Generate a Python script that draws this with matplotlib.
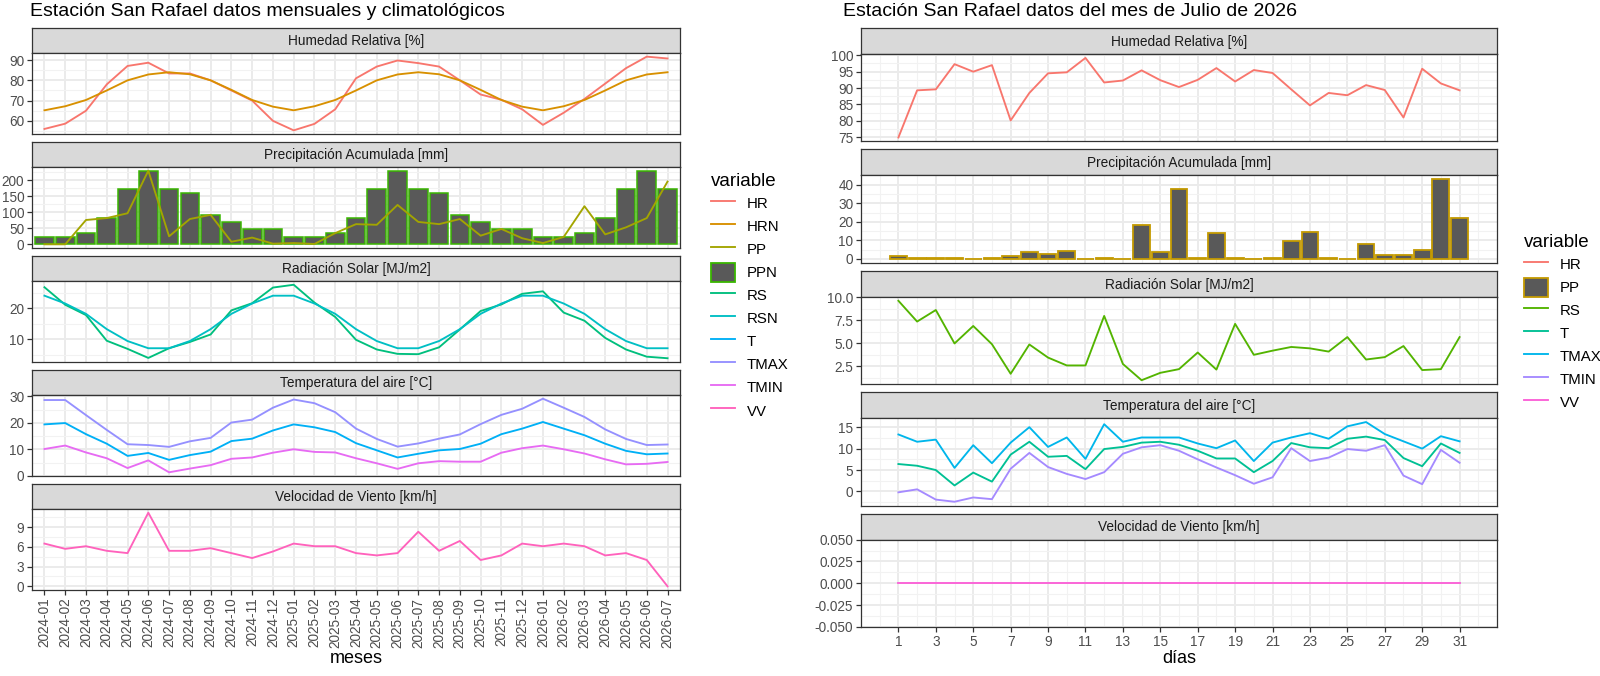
import numpy as np
import matplotlib.pyplot as plt
from matplotlib.lines import Line2D
from matplotlib.patches import Patch

plt.rcParams['font.family'] = ['Liberation Sans', 'DejaVu Sans']

# ---- datos mensuales (2024-01 .. 2026-07)
meses = ['2024-01', '2024-02', '2024-03', '2024-04', '2024-05', '2024-06', '2024-07',
         '2024-08', '2024-09', '2024-10', '2024-11', '2024-12', '2025-01', '2025-02',
         '2025-03', '2025-04', '2025-05', '2025-06', '2025-07', '2025-08', '2025-09',
         '2025-10', '2025-11', '2025-12', '2026-01', '2026-02', '2026-03', '2026-04',
         '2026-05', '2026-06', '2026-07']
hr = [56, 58.6, 65, 78, 87.1, 88.7, 83.4, 83.4, 80, 75, 70, 60, 55.3, 58.5, 65.7, 81,
      86.8, 89.8, 88.5, 86.8, 80, 73, 70.4, 65.7, 58, 64, 70.8, 78.4, 86, 91.7, 90.8]
hrn = [65.2, 67.2, 70.3, 75, 80, 82.9, 84, 83, 80, 75.3, 70.3, 67, 65.2, 67.2, 70.3, 75,
       80, 82.9, 84, 83, 80, 75.3, 70.3, 67, 65.2, 67.2, 70.3, 75, 80, 82.9, 84]
pp = [0, 0, 76, 82, 97, 230, 25, 79, 92, 8, 21, 2, 4, 1, 35, 63, 61, 123, 70, 63, 79,
      27, 48, 19, 4, 23, 119, 31, 53, 82, 196]
ppn = [24, 24, 36, 81, 172, 230, 172, 161, 93, 69, 48, 48, 24, 24, 36, 81, 172, 230, 172,
       161, 93, 69, 48, 48, 24, 24, 36, 81, 172, 230, 172]
rs = [26.7, 21.1, 17.8, 9.6, 7.0, 4.1, 7.2, 9.2, 11.6, 19.3, 21.6, 26.6, 27.5, 21.8, 17.2,
      9.9, 6.8, 5.4, 5.3, 7.5, 13.2, 19.1, 21.2, 24.6, 25.4, 18.6, 16.0, 10.5, 6.8, 4.5, 4.0]
rsn = [24, 21.5, 18.2, 13.3, 9.5, 7.2, 7.2, 9.5, 13.3, 18.2, 21.5, 24, 24, 21.5, 18.2, 13.3,
       9.5, 7.2, 7.2, 9.5, 13.3, 18.2, 21.5, 24, 24, 21.5, 18.2, 13.3, 9.5, 7.2, 7.2]
t = [19.4, 19.9, 15.7, 12.1, 7.5, 8.6, 6.0, 7.8, 9.1, 13.1, 14.0, 17.1, 19.4, 18.3, 16.5,
     12.3, 9.6, 6.9, 8.3, 9.6, 10.1, 12.1, 15.7, 17.8, 20.3, 17.8, 15.3, 12.1, 9.4, 8.1, 8.4]
tmax = [28.6, 28.6, 22.9, 17.3, 11.9, 11.6, 10.9, 13.0, 14.3, 20.1, 21.2, 25.7, 28.8, 27.4,
        24.0, 17.8, 13.9, 11.0, 12.2, 14.0, 15.6, 19.5, 23.0, 25.3, 29.1, 25.7, 22.2, 17.5,
        13.9, 11.6, 11.8]
tmin = [10.1, 11.4, 8.8, 6.6, 2.9, 5.8, 1.3, 2.7, 4.0, 6.4, 6.9, 8.7, 10.0, 9.0, 8.8, 6.6,
        4.7, 2.6, 4.7, 5.5, 5.3, 5.3, 8.7, 10.4, 11.4, 10.0, 8.4, 6.2, 4.3, 4.5, 5.2]
vv = [6.5, 5.7, 6.1, 5.4, 5.05, 11.2, 5.4, 5.4, 5.8, 5.05, 4.3, 5.3, 6.5, 6.1, 6.1, 5.05,
      4.7, 5.05, 8.3, 5.4, 6.9, 4.0, 4.7, 6.5, 6.1, 6.5, 6.1, 4.7, 5.05, 4.0, 0]

# ---- datos diarios julio 2026
dias = list(range(1, 32))
hr_d = [74.9, 89.3, 89.6, 97.3, 95.0, 97.0, 80.1, 88.5, 94.5, 94.8, 99.2, 91.7, 92.3, 95.4,
        92.4, 90.3, 92.5, 96.1, 92.0, 95.5, 94.6, 89.6, 84.7, 88.5, 87.8, 90.9, 89.4, 81.0,
        95.9, 91.4, 89.3]
pp_d = [1.3, 0.2, 0.2, 0.3, 0.1, 0.2, 1.5, 3.8, 2.7, 4.0, 0.1, 0.2, 0.1, 18.5, 3.5, 37.8,
        0.5, 14.2, 0.2, 0.1, 0.7, 9.6, 14.7, 0.2, 0.1, 8.2, 2.0, 1.8, 4.9, 42.9, 21.8]
rs_d = [9.6, 7.35, 8.6, 4.98, 6.87, 4.9, 1.7, 4.87, 3.45, 2.6, 2.6, 7.96, 2.76, 1.0, 1.8,
        2.2, 4.0, 2.15, 7.1, 3.75, 4.2, 4.6, 4.45, 4.1, 5.67, 3.24, 3.5, 4.7, 2.1, 2.2, 5.67]
t_d = [6.4, 6.0, 5.0, 1.4, 4.4, 2.3, 8.6, 11.6, 8.1, 8.3, 5.2, 9.9, 10.4, 11.4, 11.6, 10.9,
       9.5, 7.7, 7.7, 4.5, 7.1, 11.3, 10.3, 10.1, 12.3, 12.8, 12.0, 7.8, 5.9, 11.2, 9.0]
tmax_d = [13.3, 11.6, 12.1, 5.5, 10.8, 6.6, 11.4, 15.0, 10.4, 12.6, 7.6, 15.7, 11.6, 12.6,
          12.6, 12.6, 11.2, 10.1, 11.9, 7.1, 11.4, 12.6, 13.6, 12.3, 15.2, 16.2, 13.4, 11.7,
          10.0, 12.9, 11.7]
tmin_d = [-0.2, 0.5, -1.9, -2.4, -1.4, -1.8, 5.3, 9.0, 5.7, 4.1, 2.9, 4.5, 8.8, 10.3, 10.8,
          9.5, 7.5, 5.6, 3.8, 1.8, 3.3, 10.1, 7.1, 7.9, 9.9, 9.5, 10.8, 3.7, 1.7, 9.7, 6.7]
vv_d = [0] * 31

# colores ggplot
c10 = {'HR': '#F8766D', 'HRN': '#D89000', 'PP': '#A3A500', 'PPN': '#39B600', 'RS': '#00BF7D',
       'RSN': '#00BFC4', 'T': '#00B0F6', 'TMAX': '#9590FF', 'TMIN': '#E76BF3', 'VV': '#FF62BC'}
c7 = {'HR': '#F8766D', 'PP': '#C49A00', 'RS': '#53B400', 'T': '#00C094', 'TMAX': '#00B6EB',
      'TMIN': '#A58AFF', 'VV': '#FB61D7'}

W, H = 1600, 676
fig = plt.figure(figsize=(16, 6.76), dpi=100)
LW = 1.35


def facet(x0, x1, top, sh, ph, label):
    s = fig.add_axes([x0 / W, 1 - (top + sh) / H, (x1 - x0) / W, sh / H])
    s.set_facecolor('#D9D9D9')
    s.set_xticks([])
    s.set_yticks([])
    for sp in s.spines.values():
        sp.set_color('#333333')
        sp.set_linewidth(0.9)
    s.text(0.5, 0.47, label, transform=s.transAxes, ha='center', va='center',
           fontsize=9.8, color='#1A1A1A')
    ax = fig.add_axes([x0 / W, 1 - (top + sh + ph) / H, (x1 - x0) / W, ph / H])
    return ax


def style(ax, xlim, xmaj, xmin, ylim, ymaj, ylabels=None):
    ax.set_xlim(xlim)
    ax.set_ylim(ylim)
    ax.set_xticks(xmaj)
    ax.set_xticks(xmin, minor=True)
    ax.set_yticks(ymaj)
    step = ymaj[1] - ymaj[0]
    ymin = [ymaj[0] - step / 2] + [v + step / 2 for v in ymaj]
    ax.set_yticks([v for v in ymin if ylim[0] <= v <= ylim[1]], minor=True)
    if ylabels is not None:
        ax.set_yticklabels(ylabels)
    ax.grid(which='major', color='#EBEBEB', lw=1.4)
    ax.grid(which='minor', color='#F2F2F2', lw=0.75)
    ax.set_axisbelow(True)
    ax.tick_params(which='minor', length=0)
    ax.tick_params(axis='y', which='major', length=3.5, width=0.9, color='#333333',
                   labelsize=9.8, labelcolor='#4D4D4D', pad=2)
    ax.tick_params(axis='x', which='major', bottom=False, labelbottom=False)
    for sp in ax.spines.values():
        sp.set_color('#333333')
        sp.set_linewidth(0.9)


# ================= panel izquierdo =================
xi = np.arange(len(meses))
LX0, LX1 = 32, 680
lt = lambda k: 28 + k * 114
SH, PH = 25, 81
lxlim = (-0.6, len(meses) - 0.4)

ax = facet(LX0, LX1, lt(0), SH, PH, 'Humedad Relativa [%]')
ax.plot(xi, hr, color=c10['HR'], lw=LW)
ax.plot(xi, hrn, color=c10['HRN'], lw=LW)
style(ax, lxlim, xi, [], (53.5, 93.5), [60, 70, 80, 90])

ax = facet(LX0, LX1, lt(1), SH, PH, 'Precipitación Acumulada [mm]')
ax.bar(xi, ppn, width=0.9, color='#595959', edgecolor=c10['PPN'], lw=1.1)
ax.plot(xi, pp, color=c10['PP'], lw=LW)
style(ax, lxlim, xi, [], (-11.5, 241.5), [0, 50, 100, 150, 200])

ax = facet(LX0, LX1, lt(2), SH, PH, 'Radiación Solar [MJ/m2]')
ax.plot(xi, rs, color=c10['RS'], lw=LW)
ax.plot(xi, rsn, color=c10['RSN'], lw=LW)
style(ax, lxlim, xi, [], (2.8, 28.7), [10, 20])

ax = facet(LX0, LX1, lt(3), SH, PH, 'Temperatura del aire [°C]')
ax.plot(xi, t, color=c10['T'], lw=LW)
ax.plot(xi, tmax, color=c10['TMAX'], lw=LW)
ax.plot(xi, tmin, color=c10['TMIN'], lw=LW)
style(ax, lxlim, xi, [], (-0.1, 30.5), [0, 10, 20, 30])

ax = facet(LX0, LX1, lt(4), SH, PH, 'Velocidad de Viento [km/h]')
ax.plot(xi, vv, color=c10['VV'], lw=LW)
style(ax, lxlim, xi, [], (-0.56, 11.76), [0, 3, 6, 9])
ax.tick_params(axis='x', which='major', bottom=True, labelbottom=True, length=3.5,
               width=0.9, color='#333333', labelsize=9.8, labelcolor='#4D4D4D', pad=2)
ax.set_xticklabels(meses, rotation=90)
ax.set_xlabel('meses', fontsize=13, labelpad=2)

# ================= panel derecho =================
RX0, RX1 = 861, 1497
rt = lambda k: 28 + k * 121.4
RSH, RPH = 26, 87.4
rxlim = (-1, 33)
rmaj = list(range(1, 32, 2))
rmin = list(range(0, 33, 2))

ax = facet(RX0, RX1, rt(0), RSH, RPH, 'Humedad Relativa [%]')
ax.plot(dias, hr_d, color=c7['HR'], lw=LW)
style(ax, rxlim, rmaj, rmin, (73.7, 100.4), [75, 80, 85, 90, 95, 100])

ax = facet(RX0, RX1, rt(1), RSH, RPH, 'Precipitación Acumulada [mm]')
ax.bar(dias, pp_d, width=0.9, color='#595959', edgecolor=c7['PP'], lw=1.3)
style(ax, rxlim, rmaj, rmin, (-2.15, 45.05), [0, 10, 20, 30, 40])

ax = facet(RX0, RX1, rt(2), RSH, RPH, 'Radiación Solar [MJ/m2]')
ax.plot(dias, rs_d, color=c7['RS'], lw=LW)
style(ax, rxlim, rmaj, rmin, (0.57, 10.03), [2.5, 5.0, 7.5, 10.0],
      ['2.5', '5.0', '7.5', '10.0'])

ax = facet(RX0, RX1, rt(3), RSH, RPH, 'Temperatura del aire [°C]')
ax.plot(dias, t_d, color=c7['T'], lw=LW)
ax.plot(dias, tmax_d, color=c7['TMAX'], lw=LW)
ax.plot(dias, tmin_d, color=c7['TMIN'], lw=LW)
style(ax, rxlim, rmaj, rmin, (-3.3, 17.1), [0, 5, 10, 15])

ax = facet(RX0, RX1, rt(4), RSH, RPH, 'Velocidad de Viento [km/h]')
ax.plot(dias, vv_d, color=c7['VV'], lw=LW)
style(ax, rxlim, rmaj, rmin, (-0.05, 0.05), [-0.05, -0.025, 0, 0.025, 0.05],
      ['-0.050', '-0.025', '0.000', '0.025', '0.050'])
ax.tick_params(axis='x', which='major', bottom=True, labelbottom=True, length=3.5,
               width=0.9, color='#333333', labelsize=9.8, labelcolor='#4D4D4D', pad=2)
ax.set_xlabel('días', fontsize=13, labelpad=1)

# ---- titulos
fig.text(30 / W, 1 - 11 / H, 'Estación San Rafael datos mensuales y climatológicos',
         fontsize=14, va='center', ha='left')
fig.text(843 / W, 1 - 11 / H, 'Estación San Rafael datos del mes de Julio de 2026',
         fontsize=14, va='center', ha='left')

# ---- leyendas
def legend(cols, bar_key, x, y):
    handles = []
    for k, c in cols.items():
        if k == bar_key:
            handles.append(Patch(facecolor='#595959', edgecolor=c, lw=1.3))
        else:
            handles.append(Line2D([], [], color=c, lw=LW))
    lg = fig.legend(handles, list(cols.keys()), loc='upper left',
                    bbox_to_anchor=(x / W, 1 - y / H), frameon=False, title='variable',
                    title_fontsize=13.5, fontsize=10.8, handlelength=1.6, handleheight=1.6,
                    labelspacing=0.25, handletextpad=0.8, borderpad=0, borderaxespad=0,
                    alignment='left')
    return lg

legend(c10, 'PPN', 711, 173)
legend(c7, 'PP', 1524, 234)

fig.savefig('out.png', dpi=100)
